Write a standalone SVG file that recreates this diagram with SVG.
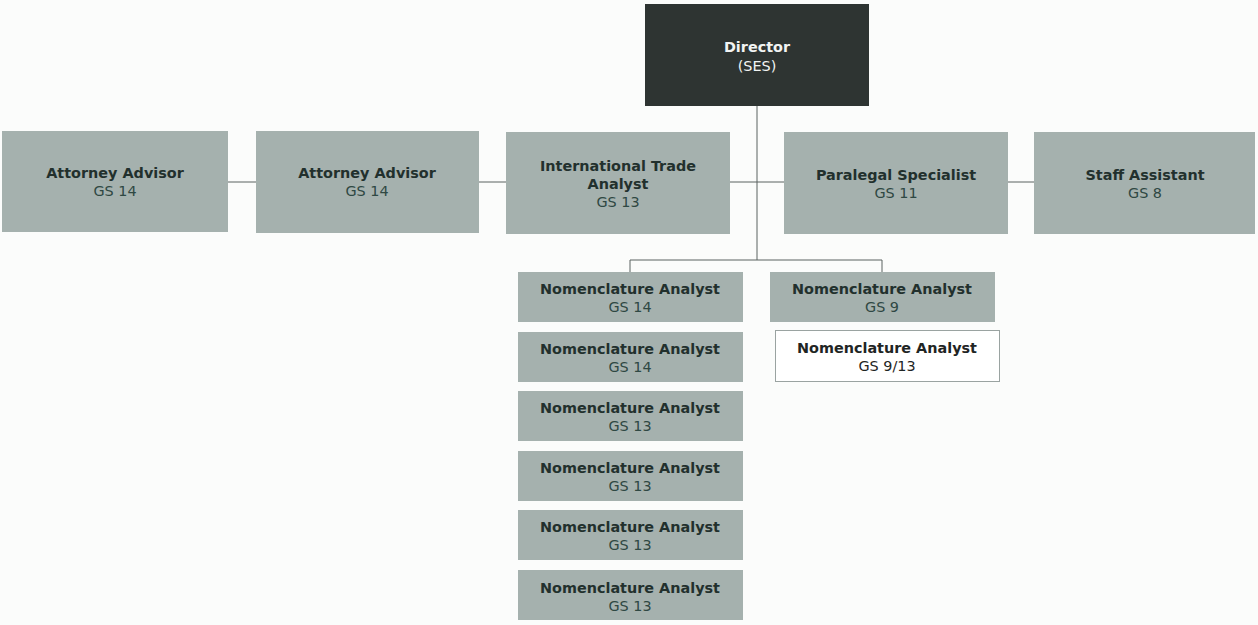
<svg xmlns="http://www.w3.org/2000/svg" width="1258" height="625" viewBox="0 0 1258 625">
<style>
.bg{fill:#fbfcfb}
.box{fill:#a5b1ae}
.dir{fill:#2e3432}
.wbox{fill:#ffffff;stroke:#9aa3a1;stroke-width:1}
text{font-family:"DejaVu Sans",Verdana,sans-serif;font-size:14.4px;text-anchor:middle;fill:#2f4843}
.t{font-weight:bold}
.w{fill:#f2f4f3}
.k{fill:#22302d}
.k2{fill:#1f2524}
.c{stroke:#5a6260;stroke-width:1;fill:none}
</style>
<rect class="bg" x="0" y="0" width="1258" height="625"/>
<g id="connectors">
<line class="c" x1="757" y1="106" x2="757" y2="260"/>
<line class="c" x1="228" y1="182" x2="256" y2="182"/>
<line class="c" x1="479" y1="182" x2="506" y2="182"/>
<line class="c" x1="730" y1="182" x2="784" y2="182"/>
<line class="c" x1="1008" y1="182" x2="1034" y2="182"/>
<polyline class="c" points="630,272 630,260 882,260 882,272"/>
</g>
<g id="director">
<rect class="dir" x="645" y="4" width="224" height="102"/>
<text class="t w" x="757" y="52">Director</text>
<text class="w" x="757" y="71">(SES)</text>
</g>
<g id="attorney1">
<rect class="box" x="2" y="131" width="226" height="101"/>
<text class="t k" x="115" y="178">Attorney Advisor</text>
<text x="115" y="196">GS 14</text>
</g>
<g id="attorney2">
<rect class="box" x="256" y="131" width="223" height="102"/>
<text class="t k" x="367" y="178">Attorney Advisor</text>
<text x="367" y="196">GS 14</text>
</g>
<g id="trade">
<rect class="box" x="506" y="132" width="224" height="102"/>
<text class="t k" x="618" y="171">International Trade</text>
<text class="t k" x="618" y="189">Analyst</text>
<text x="618" y="207">GS 13</text>
</g>
<g id="paralegal">
<rect class="box" x="784" y="132" width="224" height="102"/>
<text class="t k" x="896" y="180">Paralegal Specialist</text>
<text x="896" y="198">GS 11</text>
</g>
<g id="staff">
<rect class="box" x="1034" y="132" width="221" height="102"/>
<text class="t k" x="1145" y="180">Staff Assistant</text>
<text x="1145" y="198">GS 8</text>
</g>
<g id="nom1">
<rect class="box" x="518" y="272" width="225" height="50"/>
<text class="t k" x="630" y="294">Nomenclature Analyst</text>
<text x="630" y="312">GS 14</text>
</g>
<g id="nom2">
<rect class="box" x="518" y="332" width="225" height="50"/>
<text class="t k" x="630" y="354">Nomenclature Analyst</text>
<text x="630" y="372">GS 14</text>
</g>
<g id="nom3">
<rect class="box" x="518" y="391" width="225" height="50"/>
<text class="t k" x="630" y="413">Nomenclature Analyst</text>
<text x="630" y="431">GS 13</text>
</g>
<g id="nom4">
<rect class="box" x="518" y="451" width="225" height="50"/>
<text class="t k" x="630" y="473">Nomenclature Analyst</text>
<text x="630" y="491">GS 13</text>
</g>
<g id="nom5">
<rect class="box" x="518" y="510" width="225" height="50"/>
<text class="t k" x="630" y="532">Nomenclature Analyst</text>
<text x="630" y="550">GS 13</text>
</g>
<g id="nom6">
<rect class="box" x="518" y="570" width="225" height="50"/>
<text class="t k" x="630" y="593">Nomenclature Analyst</text>
<text x="630" y="611">GS 13</text>
</g>
<g id="nom7">
<rect class="box" x="770" y="272" width="225" height="50"/>
<text class="t k" x="882" y="294">Nomenclature Analyst</text>
<text x="882" y="312">GS 9</text>
</g>
<g id="nom8">
<rect class="wbox" x="775.5" y="330.5" width="224" height="51"/>
<text class="t k2" x="887" y="353">Nomenclature Analyst</text>
<text class="k2" x="887" y="371">GS 9/13</text>
</g>
</svg>
